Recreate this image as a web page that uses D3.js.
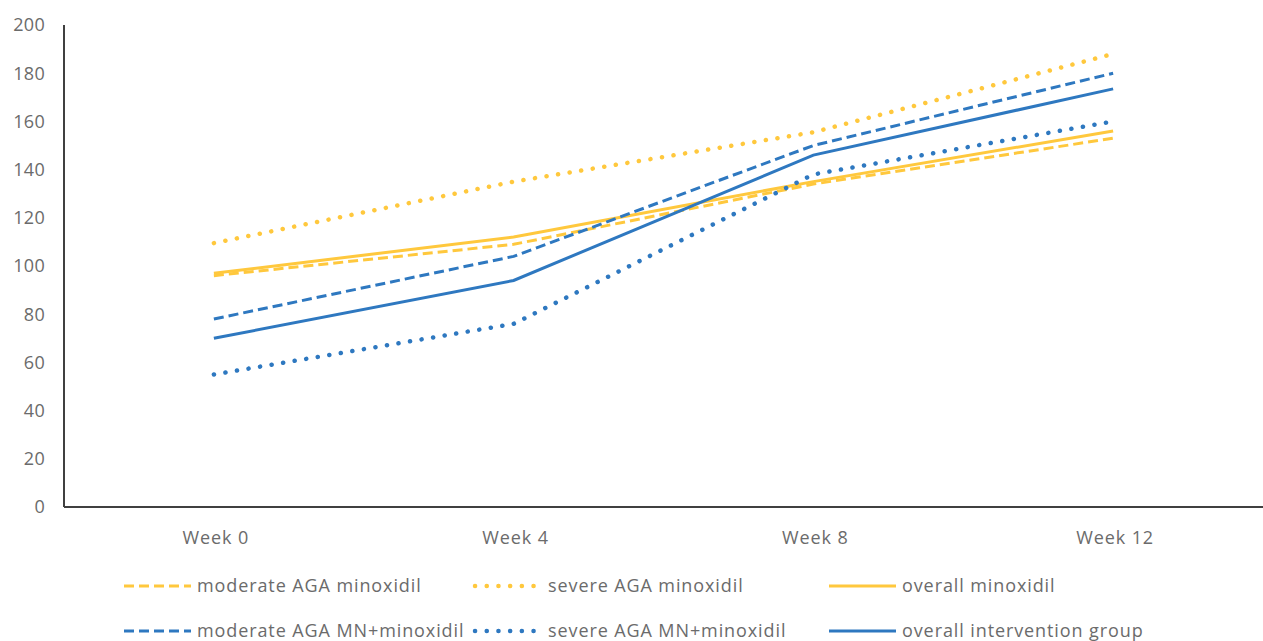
<!DOCTYPE html>
<html>
<head>
<meta charset="utf-8">
<script src="https://cdn.jsdelivr.net/npm/d3@7"></script>
<style>
  body { margin: 0; background: #fff; }
  text { font-family: "Open Sans", "Noto Sans", sans-serif; fill: #6b6b6b; }
</style>
</head>
<body>
<svg id="chart" width="1263" height="641"></svg>
<script>
// Data
const weeks = ["Week 0", "Week 4", "Week 8", "Week 12"];
const yTicks = [0, 20, 40, 60, 80, 100, 120, 140, 160, 180, 200];

const moderateMinoxidil = [96, 109, 134, 153];
const severeMinoxidil = [109.5, 135, 155.5, 188];
const overallMinoxidil = [97, 112, 135, 156];
const moderateMN = [78, 104, 150, 180];
const severeMN = [55, 76, 138, 160];
const overallIntervention = [70, 94, 146, 173.5];

const yellow = "#FFC83D";
const blue = "#2E78C0";

const series = [
  { name: "moderate AGA minoxidil", values: moderateMinoxidil, color: yellow, style: "dash" },
  { name: "severe AGA minoxidil", values: severeMinoxidil, color: yellow, style: "dot" },
  { name: "overall minoxidil", values: overallMinoxidil, color: yellow, style: "solid" },
  { name: "moderate AGA MN+minoxidil", values: moderateMN, color: blue, style: "dash" },
  { name: "severe AGA MN+minoxidil", values: severeMN, color: blue, style: "dot" },
  { name: "overall intervention group", values: overallIntervention, color: blue, style: "solid" }
];

const margin = { top: 25, right: 0, bottom: 134, left: 64 };
const width = 1263 - margin.left - margin.right;
const height = 641 - margin.top - margin.bottom;

const svg = d3.select("#chart")
  .append("g")
  .attr("transform", "translate(" + margin.left + "," + margin.top + ")");

const x = d3.scaleBand().domain(weeks).range([0, width]);
const y = d3.scaleLinear().domain([0, 200]).range([height, 0]);

function styleLine(sel, d) {
  sel.attr("stroke", d.color).attr("fill", "none");
  if (d.style === "dash") {
    sel.attr("stroke-width", 3).attr("stroke-dasharray", "10 5");
  } else if (d.style === "dot") {
    sel.attr("stroke-width", 4.5).attr("stroke-linecap", "round").attr("stroke-dasharray", "0.1 11.6");
  } else {
    sel.attr("stroke-width", 3);
  }
}

// Y axis labels
svg.append("g")
  .selectAll("text")
  .data(yTicks)
  .enter().append("text")
  .attr("x", -19)
  .attr("y", d => y(d))
  .attr("dy", "0.35em")
  .attr("text-anchor", "end")
  .attr("font-size", 18)
  .attr("letter-spacing", 0.3)
  .text(d => d);

// X axis labels
svg.append("g")
  .selectAll("text")
  .data(weeks)
  .enter().append("text")
  .attr("x", d => x(d) + x.bandwidth() / 2 + 2)
  .attr("y", height + 37)
  .attr("text-anchor", "middle")
  .attr("font-size", 18)
  .attr("letter-spacing", 0.9)
  .text(d => d);

// Lines
const line = d3.line()
  .x((v, i) => x(weeks[i]) + x.bandwidth() / 2)
  .y(v => y(v));

svg.selectAll(".series")
  .data(series)
  .enter().append("path")
  .attr("class", "series")
  .attr("d", d => line(d.values))
  .each(function(d) { styleLine(d3.select(this), d); });

// Axes lines
svg.append("line")
  .attr("x1", 0).attr("x2", 0)
  .attr("y1", 0).attr("y2", height)
  .attr("stroke", "#404040").attr("stroke-width", 2);
svg.append("line")
  .attr("x1", 0).attr("x2", width)
  .attr("y1", height).attr("y2", height)
  .attr("stroke", "#404040").attr("stroke-width", 2);

// Legend
const legendCols = [124, 475, 829];
const legendRows = [586, 631];
const legend = d3.select("#chart").append("g");
series.forEach((d, i) => {
  const lx = legendCols[i % 3];
  const ly = legendRows[Math.floor(i / 3)];
  const g = legend.append("g");
  const l = g.append("line")
    .attr("x1", lx).attr("x2", lx + 67)
    .attr("y1", ly).attr("y2", ly);
  styleLine(l, d);
  g.append("text")
    .attr("x", lx + 73)
    .attr("y", ly)
    .attr("dy", "0.35em")
    .attr("font-size", 18)
    .attr("letter-spacing", 0.9)
    .text(d.name);
});
</script>
</body>
</html>
